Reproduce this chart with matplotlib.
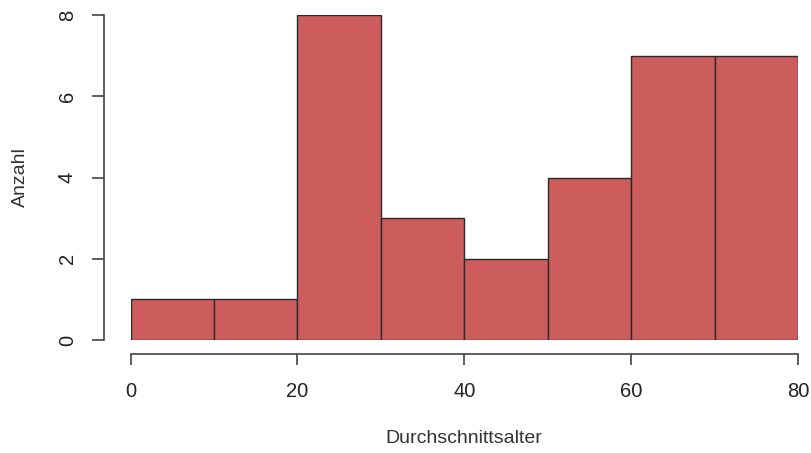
import matplotlib
matplotlib.use("Agg")
import matplotlib.pyplot as plt
import numpy as np

bin_edges = [0, 10, 20, 30, 40, 50, 60, 70, 80]
counts = [1, 1, 8, 3, 2, 4, 7, 7]
x_ticks = [0, 20, 40, 60, 80]
y_ticks = [0, 2, 4, 6, 8]

plt.rcParams['font.family'] = ['Liberation Sans', 'DejaVu Sans']
W, H = 812, 453
fig = plt.figure(figsize=(W/100, H/100), dpi=100)
ax = fig.add_axes([130.5/W, (H-340)/H, (798-130.5)/W, (340-15)/H])

ax.bar(bin_edges[:-1], counts, width=np.diff(bin_edges), align='edge',
       color='#CD5C5C', edgecolor='#2a2a2a', linewidth=1.0)
ax.set_xlim(0, 80)
ax.set_ylim(0, 8)

for s in ['top', 'right']:
    ax.spines[s].set_visible(False)
ax.spines['left'].set_position(('outward', 26.5*0.72))
ax.spines['bottom'].set_position(('outward', 14*0.72))
ax.spines['left'].set_bounds(0, 8)
ax.spines['bottom'].set_bounds(0, 80)
for s in ['left', 'bottom']:
    ax.spines[s].set_color('#444444')
    ax.spines[s].set_linewidth(1.2)

ax.set_xticks(x_ticks)
ax.set_yticks(y_ticks)
ax.tick_params(axis='x', length=8, width=1.2, color='#444444', pad=12, labelsize=14.5, labelcolor='#222222')
ax.tick_params(axis='y', length=8.5, width=1.2, color='#444444', pad=11, labelsize=14.5, labelcolor='#222222')
for lab in ax.get_yticklabels():
    lab.set_rotation(90)
    lab.set_va('center')

ax.set_xlabel('Durchschnittsalter', fontsize=14, color='#333333', labelpad=21)
ax.set_ylabel('Anzahl', fontsize=14, color='#333333', labelpad=21)

fig.savefig('out.png', dpi=100)
